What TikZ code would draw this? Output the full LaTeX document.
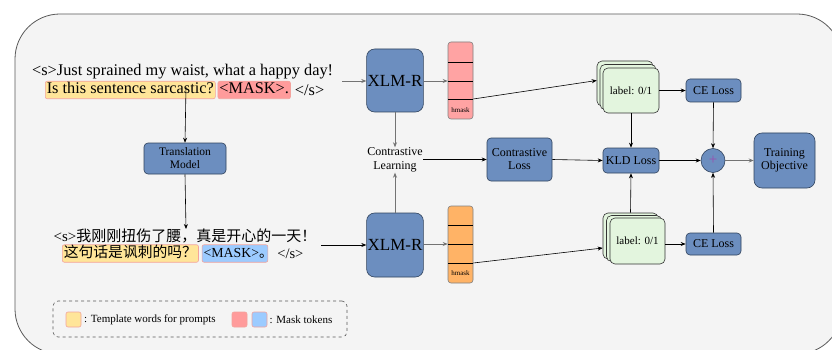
\documentclass[tikz,border=0pt]{standalone}
\usepackage{fontspec}
\setmainfont{Liberation Serif}
\newfontfamily\cjk{Noto Sans CJK SC}
\usetikzlibrary{arrows.meta,calc}
\definecolor{bgc}{HTML}{F4F4F4}
\definecolor{blu}{HTML}{6C8EBF}
\definecolor{bluedge}{HTML}{2F425C}
\definecolor{hlY}{HTML}{FFE599}
\definecolor{hlYb}{HTML}{F3A39D}
\definecolor{hlR}{HTML}{FF9B9B}
\definecolor{hlB}{HTML}{9CCBFF}
\definecolor{pnk}{HTML}{FFA3A3}
\definecolor{org}{HTML}{FFB366}
\definecolor{grn}{HTML}{E3F5DE}
\definecolor{plusc}{HTML}{9B4FB0}
\tikzset{
  bluebox/.style={draw=bluedge, fill=blu, line width=0.6pt, rounded corners=4pt, align=center, inner sep=1pt, font=\fontsize{12}{13}\selectfont},
  vecbox/.style={draw=gray, line width=0.6pt, rounded corners=3pt, minimum width=25pt, minimum height=77pt, inner sep=0pt},
  lblbox/.style={draw=black!80, fill=grn, line width=0.6pt, rounded corners=5pt, minimum width=56pt, minimum height=45pt, inner sep=0pt, font=\fontsize{11}{12}\selectfont},
  hl/.style={rounded corners=2pt, line width=0.6pt, inner sep=1.5pt, text height=11pt, text depth=3.5pt},
  hlc/.style={rounded corners=2pt, line width=0.6pt, inner sep=1.5pt, text height=11.5pt, text depth=3pt},
  arr/.style={-{Stealth[length=5pt,width=4pt]}, line width=0.6pt},
  garr/.style={-{Stealth[length=5pt,width=4pt]}, line width=0.7pt, draw=black!55},
  plain/.style={inner sep=0pt}
}
\begin{document}
\begin{tikzpicture}[x=1pt,y=-1pt]
\useasboundingbox (0,0) rectangle (832,350);
\fill[white] (0,0) rectangle (832,350);
\begin{scope}
\clip (0,0) rectangle (832,350);
\draw[fill=bgc, draw=black!65, line width=0.8pt, rounded corners=45pt] (15,14) rectangle (842,354);
\end{scope}

% English input
\node[plain, anchor=west, font=\fontsize{16.3}{18}\selectfont] (en1) at (32,72) {<s>Just sprained my waist, what a happy day!};
\node[hl, anchor=west, fill=hlY, draw=hlYb, font=\fontsize{16.3}{18}\selectfont] (enY) at (45,90) {Is this sentence sarcastic?};
\node[hl, anchor=west, fill=hlR, draw=hlYb, font=\fontsize{16.3}{18}\selectfont] (enM) at ($(enY.east)+(2,0)$) {<MASK>.};
\node[plain, anchor=west, font=\fontsize{16.3}{18}\selectfont] (enE) at ($(enM.east)+(4,0)$) {</s>};

% Chinese input
\node[plain, font=\fontsize{15}{16}\selectfont] (zh1) at (185,236) {<s>{\cjk 我刚刚扭伤了腰，真是开心的一天！}};
\node[hlc, anchor=west, fill=hlY, draw=hlYb, font=\fontsize{14.8}{16}\selectfont] (zhY) at (62,253.5) {\cjk 这句话是讽刺的吗？};
\node[hlc, anchor=west, fill=hlB, draw=hlYb, font=\fontsize{13.8}{16}\selectfont] (zhM) at ($(zhY.east)+(3,0)$) {<MASK>{\cjk 。}\kern-6.5pt};
\node[plain, anchor=west, font=\fontsize{14.5}{16}\selectfont] (zhE) at ($(zhM.east)+(9,0)$) {</s>};

% translation model
\node[bluebox, minimum width=82pt, minimum height=31pt, font=\fontsize{11.5}{13}\selectfont] (tm) at (185,158.5) {Translation\\Model};
\coordinate (tstart) at (186,87);
\coordinate (tend) at (186,229);
\draw[arr] (tstart) -- (tm.north);
\draw[arr] (tm.south) -- (tend);

% XLM-R
\node[bluebox, rounded corners=8pt, minimum width=56pt, minimum height=63pt, font=\fontsize{17}{18}\selectfont] (x1) at (395,80.5) {XLM-R};
\node[bluebox, rounded corners=8pt, minimum width=56pt, minimum height=64pt, font=\fontsize{17}{18}\selectfont] (x2) at (395,245) {XLM-R};
\coordinate (in1) at (342,81);
\coordinate (in2) at (321,245);
\draw[garr] (in1) -- (x1.west |- in1);
\draw[arr] (in2) -- (x2.west |- in2);

% hmask vectors
\node[vecbox, fill=pnk] (h1) at (460.5,80.5) {};
\draw[line width=0.6pt] (448,62) -- (473,62) (448,81) -- (473,81) (448,99) -- (473,99);
\node[plain, font=\fontsize{7}{8}\selectfont] (h1t) at (460.5,110) {hmask};
\node[vecbox, fill=org] (h2) at (460.5,244.5) {};
\draw[line width=0.6pt] (448,225) -- (473,225) (448,244) -- (473,244) (448,263) -- (473,263);
\node[plain, font=\fontsize{7}{8}\selectfont] (h2t) at (460.5,273.5) {hmask};
\draw[garr] (x1.east |- 0,81) -- (h1.west |- 0,81);
\draw[garr] (x2.east |- 0,244) -- (h2.west |- 0,244);

% contrastive
\node[plain, align=center, font=\fontsize{12}{14.5}\selectfont] (cl) at (395,160) {Contrastive\\Learning};
\draw[garr] (x1.south) -- (cl.north);
\draw[garr] (x2.north) -- (cl.south);
\node[bluebox, minimum width=65pt, minimum height=43pt] (closs) at (519.5,159.5) {Contrastive\\Loss};
\draw[arr] (cl.east |- closs) -- (closs.west);

% label stacks
\node[lblbox] (l1b) at (625,83.5) {};
\node[lblbox] (l1m) at (628,87) {};
\node[lblbox] (l1) at (631,90.5) {label: 0/1};
\node[lblbox, minimum width=55pt, minimum height=46pt] (l2b) at (630.5,236) {};
\node[lblbox, minimum width=55pt, minimum height=46pt] (l2m) at (634,238.5) {};
\node[lblbox, minimum width=55pt, minimum height=46pt] (l2) at (637.5,241) {label: 0/1};
\draw[arr] ($(h1.east)+(0,18.5)$) -- ($(l1b.west)+(0,-3)$);
\draw[arr] ($(h2.east)+(0,18.5)$) -- ($(l2b.west)+(0,12)$);

% losses
\node[bluebox, minimum width=56pt, minimum height=25pt] (kld) at (631,160.5) {KLD Loss};
\node[bluebox, minimum width=55pt, minimum height=23pt] (ce1) at (713.5,90.5) {CE Loss};
\node[bluebox, minimum width=55pt, minimum height=22pt] (ce2) at (713.5,244) {CE Loss};
\node[circle, draw=bluedge, fill=blu, line width=0.6pt, minimum size=24pt, inner sep=0pt, text=plusc, font=\fontsize{15}{15}\selectfont] (plus) at (713,160.5) {+};
\node[bluebox, rounded corners=8pt, minimum width=61pt, minimum height=55pt] (to) at (784.5,160.5) {Training\\Objective};

\draw[arr] (closs.east) -- (kld.west);
\draw[arr] (l1.east |- ce1) -- (ce1.west);
\draw[arr] (l2.east |- ce2) -- (ce2.west);
\draw[arr] (l1.south) -- (kld.north);
\draw[arr] (l2b.north) -- (kld.south);
\draw[arr] (kld.east) -- (plus.west);
\draw[arr] (ce1.south) -- (plus.north);
\draw[arr] (ce2.north) -- (plus.south);
\draw[garr] (plus.east) -- (to.west);

% legend
\node[draw=black!65, dashed, line width=0.6pt, rounded corners=5pt, minimum width=294pt, minimum height=36pt, inner sep=0pt] (leg) at (200,319) {};
\node[draw=hlYb, fill=hlY, rounded corners=2pt, line width=0.6pt, minimum size=15pt, inner sep=0pt] (sqY) at (73.5,319.5) {};
\node[plain, anchor=west, font=\fontsize{11}{12}\selectfont] (legT) at (84,319.5) {: Template words for prompts};
\node[draw=hlYb, fill=hlR, rounded corners=2pt, line width=0.6pt, minimum size=15pt, inner sep=0pt] (sqR) at (239.5,319.5) {};
\node[draw=hlYb, fill=hlB, rounded corners=2pt, line width=0.6pt, minimum size=15pt, inner sep=0pt] (sqB) at (259.5,319.5) {};
\node[plain, anchor=west, font=\fontsize{11}{12}\selectfont] (legM) at (269.5,319.5) {: Mask tokens};
\end{tikzpicture}
\end{document}
